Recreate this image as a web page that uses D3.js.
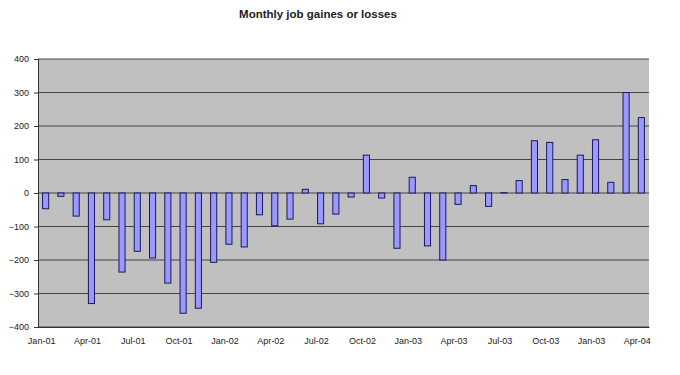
<!DOCTYPE html>
<html>
<head>
<meta charset="utf-8">
<script src="https://cdn.jsdelivr.net/npm/d3@7"></script>
<style>
  body { margin: 0; background: #fff; }
  svg text { font-family: Arial, "Liberation Sans", sans-serif; fill: #222; }
</style>
</head>
<body>
<svg id="chart" width="680" height="375"></svg>
<script>
// monthly values Jan-01 .. Apr-04 (thousands)
var values = [-47, -10, -69, -330, -80, -236, -174, -194, -269, -359, -344, -207,
              -153, -161, -65, -98, -78, 11, -92, -63, -12, 113, -15, -165,
              47, -158, -200, -34, 22, -40, 1, 37, 156, 151, 40, 113,
              159, 32, 300, 225];

// labels as printed on the original (the "Jan-03" near the end is in the source)
var tickLabels = ["Jan-01", "Apr-01", "Jul-01", "Oct-01", "Jan-02", "Apr-02", "Jul-02",
                  "Oct-02", "Jan-03", "Apr-03", "Jul-03", "Oct-03", "Jan-03", "Apr-04"];

var yTicks = [-400, -300, -200, -100, 0, 100, 200, 300, 400];

var svg = d3.select("#chart");
var plotLeft = 38, plotRight = 649, plotTop = 59, plotBottom = 327;

var x = d3.scaleBand()
    .domain(d3.range(values.length))
    .range([plotLeft, plotRight])
    .paddingInner(0.6)
    .paddingOuter(0.3);

var y = d3.scaleLinear().domain([-400, 400]).range([plotBottom, plotTop]);

// title
svg.append("text")
    .attr("x", 318).attr("y", 18)
    .attr("text-anchor", "middle")
    .style("font-size", "11.5px")
    .style("font-weight", "bold")
    .text("Monthly job gaines or losses");

// plot background
svg.append("rect")
    .attr("x", plotLeft).attr("y", plotTop)
    .attr("width", plotRight - plotLeft).attr("height", plotBottom - plotTop)
    .attr("fill", "#c0c0c0");

// gridlines
svg.append("g")
  .selectAll("line")
  .data(yTicks)
  .enter().append("line")
    .attr("x1", plotLeft).attr("x2", plotRight)
    .attr("y1", function(d) { return y(d); })
    .attr("y2", function(d) { return y(d); })
    .attr("stroke", "#444")
    .attr("stroke-width", 1);

// bars
svg.append("g")
  .selectAll("rect")
  .data(values)
  .enter().append("rect")
    .attr("x", function(d, i) { return x(i); })
    .attr("width", x.bandwidth())
    .attr("y", function(d) { return y(Math.max(0, d)); })
    .attr("height", function(d) { return Math.abs(y(d) - y(0)); })
    .attr("fill", "#9999ff")
    .attr("stroke", "#1a1a5a")
    .attr("stroke-width", 1);

// y axis
var yAxis = d3.axisLeft(y).tickValues(yTicks).tickSize(4).tickPadding(5);
var gy = svg.append("g")
    .attr("transform", "translate(" + plotLeft + ",0)")
    .call(yAxis);
gy.select(".domain").attr("stroke", "#333");
gy.selectAll(".tick line").attr("stroke", "#333");
gy.selectAll("text").style("font-size", "9px").attr("fill", "#222");

// x axis: labels every third month
var xAxis = d3.axisBottom(x)
    .tickValues(d3.range(0, values.length, 3))
    .tickFormat(function(d) { return tickLabels[d / 3]; })
    .tickSize(0)
    .tickPadding(11);
var gx = svg.append("g")
    .attr("transform", "translate(0," + plotBottom + ")")
    .call(xAxis);
gx.select(".domain").attr("stroke", "#333");
gx.selectAll("text").style("font-size", "9px").attr("fill", "#222")
    .attr("dx", "-4");
</script>
</body>
</html>
